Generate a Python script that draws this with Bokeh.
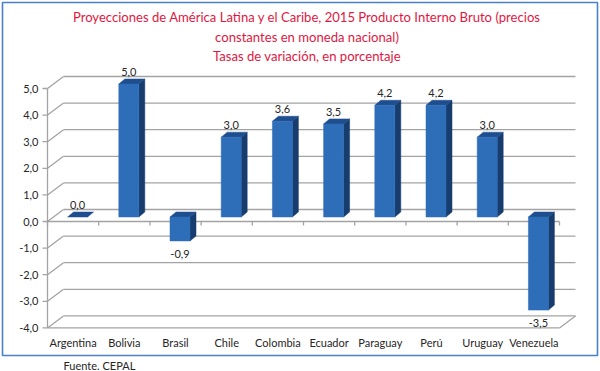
from bokeh.plotting import figure
from bokeh.models import Range1d
from bokeh.core.properties import value
from bokeh.embed import file_html
from bokeh.resources import INLINE

# ---- data ----
countries = ["Argentina", "Bolivia", "Brasil", "Chile", "Colombia", "Ecuador",
             "Paraguay", "Perú", "Uruguay", "Venezuela"]
growth = [0.0, 5.0, -0.9, 3.0, 3.6, 3.5, 4.2, 4.2, 3.0, -3.5]
y_ticks = [-4, -3, -2, -1, 0, 1, 2, 3, 4, 5]
y_tick_labels = ["-4,0", "-3,0", "-2,0", "-1,0", "0,0", "1,0", "2,0", "3,0", "4,0", "5,0"]
title_lines = ["Proyecciones de América Latina y el Caribe, 2015 Producto Interno Bruto (precios",
               "constantes en moneda nacional)",
               "Tasas de variación, en porcentaje"]
source_note = "Fuente. CEPAL"

# ---- layout (pixels) ----
W, H = 600, 371
X_PX = 51.2      # px per category
X0 = 47.0        # canvas x of category axis start
Y_PX = 26.6      # px per unit
Y_ZERO = 221.0   # canvas y of value 0
FONT = value("Lato")

def dx(px):
    return px / X_PX

def dy(px):
    return px / Y_PX

def cx(px):  # canvas x -> data x
    return (px - X0) / X_PX

def cy(py):  # canvas y -> data y
    return (Y_ZERO - py) / Y_PX

p = figure(width=W, height=H, output_backend="svg", toolbar_location=None,
           x_range=Range1d(cx(0), cx(W)), y_range=Range1d(cy(H), cy(0)),
           min_border=0)
p.axis.visible = False
p.grid.visible = False
p.outline_line_color = None
p.background_fill_color = "white"
p.border_fill_color = "white"

n = len(countries)
ymin, ymax = min(y_ticks), max(y_ticks)
DX, DY = dx(16), dy(12)
grid_col = "#A3A3A3"

# back wall + side wall gridlines
p.segment(x0=[DX] * len(y_ticks), y0=[t + DY for t in y_ticks],
          x1=[n + DX] * len(y_ticks), y1=[t + DY for t in y_ticks],
          line_color=grid_col, line_width=1.3)
p.segment(x0=[0] * len(y_ticks), y0=y_ticks,
          x1=[DX] * len(y_ticks), y1=[t + DY for t in y_ticks],
          line_color=grid_col, line_width=1.3)
# floor edges
p.segment(x0=[0, n], y0=[ymin, ymin], x1=[n, n + DX], y1=[ymin, ymin + DY],
          line_color=grid_col, line_width=1.3)
# value axis
p.segment(x0=[0], y0=[ymin], x1=[0], y1=[ymax], line_color=grid_col, line_width=1.3)
p.segment(x0=[-dx(5)] * len(y_ticks), y0=y_ticks, x1=[0] * len(y_ticks), y1=y_ticks,
          line_color=grid_col, line_width=1.3)
p.text(x=[-dx(9)] * len(y_ticks), y=y_ticks, text=y_tick_labels,
       text_align="right", text_baseline="middle", text_font=FONT,
       text_font_size="11px", text_color="#262626")
# category axis at 0
p.segment(x0=[0], y0=[0], x1=[n], y1=[0], line_color=grid_col, line_width=1.3)
p.segment(x0=list(range(n + 1)), y0=[0] * (n + 1), x1=list(range(n + 1)),
          y1=[-dy(4)] * (n + 1), line_color=grid_col, line_width=1.3)
p.text(x=[i + 0.5 for i in range(n)], y=[ymin - dy(15)] * n, text=countries,
       text_align="center", text_baseline="middle", text_font=FONT,
       text_font_size="11px", text_color="#262626")

# bars
BW, BOX, BOY = dx(20), dx(4.5), dy(4.5)
SDX, SDY = dx(6), dy(5)
front_col, top_col, side_col = "#2E6DB8", "#1F4E8E", "#173C6E"
fl, fr, fb, ft = [], [], [], []
side_xs, side_ys, top_xs, top_ys = [], [], [], []
lab_x, lab_y, lab_t, lab_off = [], [], [], []
for i, v in enumerate(growth):
    xc = i + 0.5 + BOX
    xl, xr = xc - BW / 2, xc + BW / 2
    lo, hi = min(0, v) + BOY, max(0, v) + BOY
    if v != 0:
        fl.append(xl); fr.append(xr); fb.append(lo); ft.append(hi)
        side_xs.append([xr, xr + SDX, xr + SDX, xr])
        side_ys.append([lo, lo + SDY, hi + SDY, hi])
    top_xs.append([xl, xr, xr + SDX, xl + SDX])
    top_ys.append([hi, hi, hi + SDY, hi + SDY])
    lab_x.append(xc)
    lab_t.append(f"{v:.1f}".replace(".", ","))
    if v < 0:
        lab_y.append(lo); lab_off.append(13)
    else:
        lab_y.append(hi); lab_off.append(-12)

p.patches(xs=side_xs, ys=side_ys, fill_color=side_col, line_color=side_col, line_width=0.5)
p.patches(xs=top_xs, ys=top_ys, fill_color=top_col, line_color=top_col, line_width=0.5)
p.quad(left=fl, right=fr, bottom=fb, top=ft, fill_color=front_col,
       line_color=front_col, line_width=0.5)
p.text(x=lab_x, y=lab_y, text=lab_t, y_offset=lab_off, text_align="center",
       text_baseline="middle", text_font=FONT, text_font_size="11px",
       text_color="#262626")

# title
p.text(x=[cx(306.5)] * 3, y=[cy(16), cy(36), cy(55)], text=title_lines,
       text_align="center", text_baseline="middle", text_font=FONT,
       text_font_size="13.1px", text_color="#E2173F")

# outer border
p.quad(left=[cx(2)], right=[cx(597)], top=[cy(2)], bottom=[cy(355)],
       fill_color=None, line_color="#4A80C8", line_width=1.6)

# source note
p.text(x=[cx(63)], y=[cy(365)], text=[source_note], text_align="left",
       text_baseline="middle", text_font=FONT, text_font_size="11px",
       text_color="#262626")

open("out.html", "w").write(file_html(p, INLINE))
